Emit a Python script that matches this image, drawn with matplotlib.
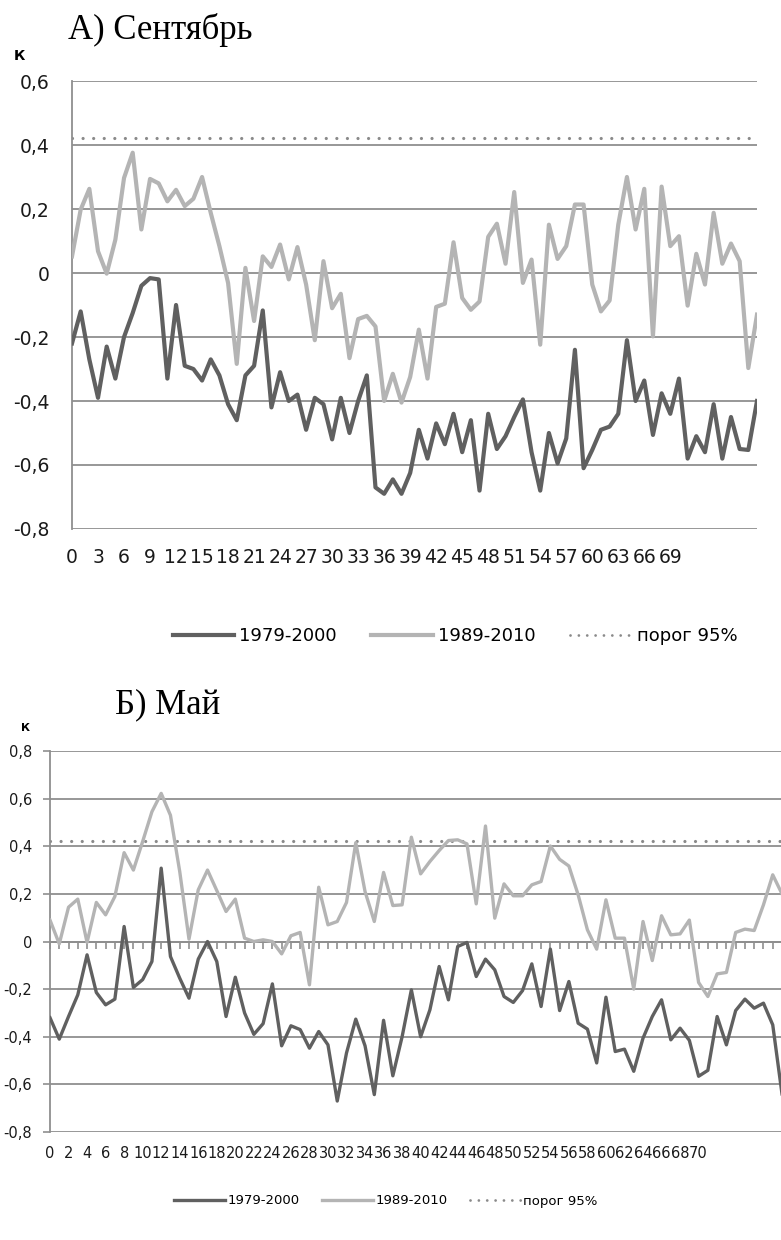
import numpy as np
import matplotlib.pyplot as plt
from matplotlib.lines import Line2D
from matplotlib.ticker import FuncFormatter

# correlation coefficients, September
sep_1979 = [-0.22, -0.12, -0.27, -0.39, -0.23, -0.33, -0.20, -0.125, -0.04, -0.016,
            -0.02, -0.33, -0.10, -0.29, -0.30, -0.336, -0.27, -0.32, -0.41, -0.46,
            -0.32, -0.29, -0.117, -0.42, -0.31, -0.40, -0.38, -0.49, -0.39, -0.41,
            -0.52, -0.39, -0.50, -0.40, -0.32, -0.67, -0.69, -0.645, -0.69, -0.625,
            -0.49, -0.58, -0.47, -0.535, -0.44, -0.56, -0.46, -0.68, -0.44, -0.55,
            -0.51, -0.45, -0.395, -0.56, -0.68, -0.50, -0.595, -0.517, -0.24, -0.61,
            -0.553, -0.49, -0.48, -0.44, -0.21, -0.40, -0.336, -0.506, -0.376, -0.44,
            -0.33, -0.58, -0.51, -0.56, -0.41, -0.58, -0.45, -0.55, -0.553, -0.40]
sep_1989 = [0.052, 0.198, 0.263, 0.068, -0.002, 0.104, 0.297, 0.376, 0.136, 0.294,
            0.28, 0.224, 0.26, 0.209, 0.232, 0.30, 0.188, 0.084, -0.031, -0.284,
            0.016, -0.15, 0.052, 0.019, 0.089, -0.02, 0.081, -0.036, -0.21, 0.037,
            -0.11, -0.065, -0.266, -0.144, -0.134, -0.167, -0.40, -0.315, -0.405, -0.325,
            -0.177, -0.33, -0.106, -0.096, 0.096, -0.078, -0.115, -0.089, 0.113, 0.154,
            0.029, 0.253, -0.031, 0.042, -0.224, 0.151, 0.044, 0.084, 0.214, 0.214,
            -0.036, -0.12, -0.086, 0.151, 0.30, 0.136, 0.263, -0.198, 0.27, 0.084,
            0.115, -0.102, 0.06, -0.036, 0.188, 0.029, 0.092, 0.037, -0.297, -0.13]

# correlation coefficients, May
may_1979 = [-0.32, -0.41, -0.315, -0.224, -0.056, -0.214, -0.266, -0.242, 0.063, -0.193,
            -0.16, -0.084, 0.308, -0.063, -0.154, -0.238, -0.074, 0.0, -0.084, -0.315,
            -0.15, -0.30, -0.39, -0.345, -0.178, -0.438, -0.354, -0.37, -0.448, -0.378,
            -0.434, -0.67, -0.468, -0.326, -0.438, -0.643, -0.331, -0.564, -0.40, -0.203,
            -0.40, -0.287, -0.105, -0.245, -0.021, -0.004, -0.147, -0.074, -0.119, -0.231,
            -0.256, -0.206, -0.094, -0.273, -0.032, -0.29, -0.168, -0.343, -0.368, -0.51,
            -0.234, -0.462, -0.452, -0.545, -0.406, -0.315, -0.245, -0.413, -0.364, -0.415,
            -0.566, -0.541, -0.315, -0.434, -0.29, -0.242, -0.28, -0.259, -0.35, -0.64]
may_1989 = [0.09, -0.01, 0.144, 0.178, -0.004, 0.164, 0.112, 0.189, 0.373, 0.30,
            0.42, 0.545, 0.622, 0.53, 0.294, 0.01, 0.217, 0.30, 0.214, 0.126,
            0.178, 0.014, 0.0, 0.007, 0.0, -0.052, 0.024, 0.038, -0.182, 0.228,
            0.07, 0.084, 0.164, 0.415, 0.21, 0.084, 0.29, 0.151, 0.154, 0.438,
            0.284, 0.336, 0.382, 0.424, 0.427, 0.41, 0.158, 0.485, 0.098, 0.242,
            0.192, 0.192, 0.238, 0.252, 0.401, 0.345, 0.317, 0.196, 0.049, -0.032,
            0.175, 0.014, 0.014, -0.20, 0.084, -0.08, 0.108, 0.028, 0.032, 0.09,
            -0.172, -0.231, -0.136, -0.13, 0.038, 0.052, 0.046, 0.154, 0.28, 0.20]

threshold = 0.423
series_labels = ['1979-2000', '1989-2010', 'порог 95%']

DARK = '#606060'
LIGHT = '#b4b4b4'
GRID = '#8f8f8f'
DOT = '#8a8a8a'


def comma_fmt(v, pos):
    if abs(v) < 1e-9:
        return '0'
    return f'{v:.1f}'.replace('.', ',')


def draw_panel(ax, dark, light, ylim, xstep, nlabels, lw, fs, ypad, xpad):
    x = np.arange(len(dark))
    ax.set_xlim(0, len(dark) - 1)
    ax.set_ylim(*ylim)
    yt = np.arange(ylim[0], ylim[1] + 0.01, 0.2)
    ax.set_yticks(yt)
    for v in yt:
        ax.axhline(v, color=GRID, lw=1.3, zorder=1)
    ax.axhline(threshold, color=DOT, lw=2.3, ls=(0, (0.01, 3.3)),
               dash_capstyle='round', zorder=2)
    ax.plot(x, light, color=LIGHT, lw=lw, solid_joinstyle='round', zorder=3)
    ax.plot(x, dark, color=DARK, lw=lw, solid_joinstyle='round', zorder=4)
    ax.yaxis.set_major_formatter(FuncFormatter(comma_fmt))
    # category labels stop short of the last points
    ax.set_xticks(x[::xstep][:nlabels])
    for s in ['top', 'right', 'bottom']:
        ax.spines[s].set_visible(False)
    ax.spines['left'].set_color(GRID)
    ax.spines['left'].set_linewidth(1.3)
    ax.tick_params(axis='x', length=0, pad=xpad, labelsize=fs, labelcolor='#1a1a1a')
    ax.tick_params(axis='y', length=0, pad=ypad, labelsize=fs, labelcolor='#1a1a1a')


fig = plt.figure(figsize=(7.81, 12.4), dpi=100)

# А) September
ax1 = fig.add_axes([72 / 781, 1 - 529 / 1240, 685 / 781, 448 / 1240])
draw_panel(ax1, sep_1979, sep_1989, (-0.8, 0.6), 3, 24, 3.0, 13.5, 16, 14)
fig.text(68 / 781, 1 - 30 / 1240, 'А) Сентябрь', family='Liberation Serif',
         fontsize=25, ha='left', va='center')
fig.text(19 / 781, 1 - 56 / 1240, 'К', fontsize=10, fontweight='bold',
         ha='center', va='center')

# Б) May
ax2 = fig.add_axes([50 / 781, 1 - 1132 / 1240, 732 / 781, 381 / 1240])
draw_panel(ax2, may_1979, may_1989, (-0.8, 0.8), 2, 36, 2.4, 10.5, 12, 10)
ax2.tick_params(axis='y', length=5, width=1.2, color=GRID, direction='out', pad=8)

# category ticks along the zero line
sec = ax2.secondary_xaxis(0.5)
sec.set_alignment('bottom')
sec.set_xticks(np.arange(len(may_1979)))
sec.xaxis.set_ticklabels([])
sec.tick_params(axis='x', length=5, width=1.2, color=GRID, direction='out')
sec.spines['bottom'].set_color(GRID)
sec.spines['bottom'].set_linewidth(1.3)

fig.text(115 / 781, 1 - 705 / 1240, 'Б) Май', family='Liberation Serif',
         fontsize=25, ha='left', va='center')
fig.text(25 / 781, 1 - 728 / 1240, 'К', fontsize=8, fontweight='bold',
         ha='center', va='center')


def legend_handles(lw):
    return [Line2D([], [], color=DARK, lw=lw),
            Line2D([], [], color=LIGHT, lw=lw),
            Line2D([], [], color=DOT, lw=2.0, ls=(0, (0.01, 3.0)),
                   dash_capstyle='round')]


fig.legend(legend_handles(3.0), series_labels, loc='center', ncol=3,
           bbox_to_anchor=(455 / 781, 1 - 636 / 1240), frameon=False,
           fontsize=13, handlelength=3.4, handletextpad=0.3, columnspacing=1.9)
fig.legend(legend_handles(2.4), series_labels, loc='center', ncol=3,
           bbox_to_anchor=(386 / 781, 1 - 1201 / 1240), frameon=False,
           fontsize=9.5, handlelength=3.8, handletextpad=0.2, columnspacing=1.75)

fig.savefig('out.png', dpi=100)
